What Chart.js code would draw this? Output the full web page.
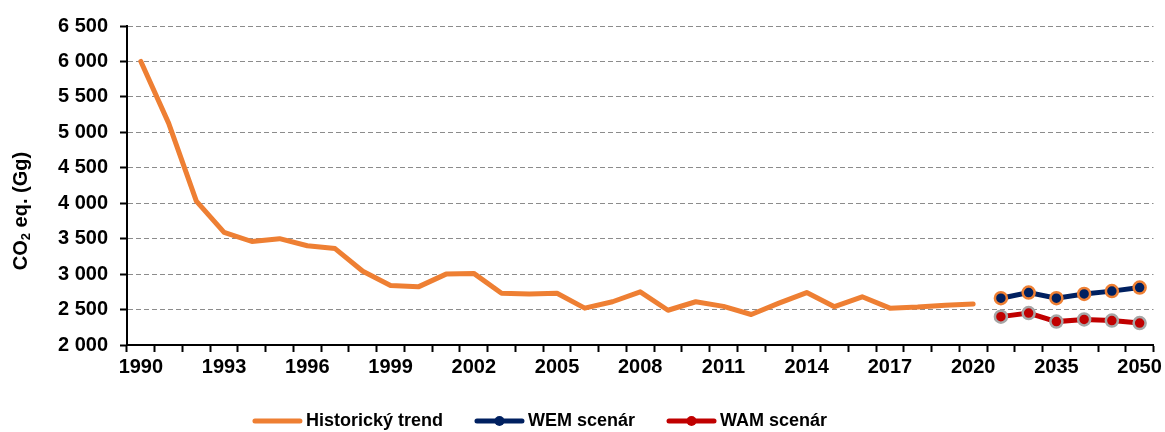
<!DOCTYPE html>
<html>
<head>
<meta charset="utf-8">
<script src="https://cdn.jsdelivr.net/npm/chart.js@4/dist/chart.umd.min.js"></script>
<style>
  html, body { margin: 0; padding: 0; background: #fff; }
  #wrap { width: 1165px; height: 432px; }
</style>
</head>
<body>
<div id="wrap"><canvas id="chart" width="1165" height="432"></canvas></div>
<script>
// categories: yearly history, then 5-year projection steps
const years = ["1990","1991","1992","1993","1994","1995","1996","1997","1998","1999",
  "2000","2001","2002","2003","2004","2005","2006","2007","2008","2009",
  "2010","2011","2012","2013","2014","2015","2016","2017","2018","2019","2020",
  "2025","2030","2035","2040","2045","2050"];
const shownYears = ["1990","1993","1996","1999","2002","2005","2008","2011","2014","2017","2020","2035","2050"];

const historic = [6000,5130,4030,3590,3460,3500,3400,3360,3040,2840,
  2820,3000,3010,2730,2720,2730,2520,2610,2750,2490,
  2610,2545,2430,2590,2740,2540,2680,2520,2535,2560,2580,
  null,null,null,null,null,null];
const wem = [null,null,null,null,null,null,null,null,null,null,
  null,null,null,null,null,null,null,null,null,null,
  null,null,null,null,null,null,null,null,null,null,null,
  2660,2740,2660,2720,2760,2810];
const wam = [null,null,null,null,null,null,null,null,null,null,
  null,null,null,null,null,null,null,null,null,null,
  null,null,null,null,null,null,null,null,null,null,null,
  2400,2450,2330,2360,2345,2310];

const yTicks = [2000,2500,3000,3500,4000,4500,5000,5500,6000,6500];
const seriesNames = ["Historický trend","WEM scenár","WAM scenár"];

const ORANGE = "#EE7F33", NAVY = "#002060", RED = "#C00000", GREY = "#A6A6A6";
const FONT = "Liberation Sans, Arial, sans-serif";

function fmt(v) {
  return String(v).replace(/\B(?=(\d{3})+(?!\d))/g, " ");
}

const extras = {
  id: "extras",
  afterDraw(chart) {
    const ctx = chart.ctx;
    ctx.save();
    ctx.fillStyle = "#000";
    // y axis title with subscript
    ctx.translate(21, 211);
    ctx.rotate(-Math.PI / 2);
    ctx.textBaseline = "middle";
    ctx.textAlign = "left";
    const big = "bold 20px " + FONT, small = "bold 13px " + FONT;
    ctx.font = big; const w1 = ctx.measureText("CO").width, w3 = ctx.measureText(" eq. (Gg)").width;
    ctx.font = small; const w2 = ctx.measureText("2").width;
    let x = -(w1 + w2 + w3) / 2;
    ctx.font = big; ctx.fillText("CO", x, 0); x += w1;
    ctx.font = small; ctx.fillText("2", x, 5); x += w2;
    ctx.font = big; ctx.fillText(" eq. (Gg)", x, 0);
    ctx.restore();

    // legend
    ctx.save();
    ctx.font = "bold 18px " + FONT;
    ctx.textBaseline = "middle";
    const items = [
      { text: seriesNames[0], color: ORANGE, dot: false },
      { text: seriesNames[1], color: NAVY, dot: true },
      { text: seriesNames[2], color: RED, dot: true }
    ];
    const lineW = 49, gapText = 4, gapItem = 32, y = 421;
    let total = 0;
    items.forEach((it, i) => { total += lineW + gapText + ctx.measureText(it.text).width + (i ? gapItem : 0); });
    let lx = 540 - total / 2;
    items.forEach(it => {
      ctx.strokeStyle = it.color;
      ctx.lineWidth = 5;
      ctx.lineCap = "round";
      ctx.beginPath(); ctx.moveTo(lx + 2, y); ctx.lineTo(lx + lineW - 2, y); ctx.stroke();
      if (it.dot) {
        ctx.fillStyle = it.color;
        ctx.beginPath(); ctx.arc(lx + lineW / 2, y, 5, 0, Math.PI * 2); ctx.fill();
      }
      ctx.fillStyle = "#000";
      ctx.fillText(it.text, lx + lineW + gapText, y);
      lx += lineW + gapText + ctx.measureText(it.text).width + gapItem;
    });
    ctx.restore();
  }
};

new Chart(document.getElementById("chart"), {
  type: "line",
  data: {
    labels: years,
    datasets: [
      { label: seriesNames[0], data: historic, borderColor: ORANGE, backgroundColor: ORANGE,
        borderWidth: 5, pointRadius: 0, tension: 0, borderCapStyle: "round", borderJoinStyle: "round" },
      { label: seriesNames[1], data: wem, borderColor: NAVY, backgroundColor: NAVY,
        borderWidth: 5, pointRadius: 6, pointBorderWidth: 2.5, pointBackgroundColor: NAVY,
        pointBorderColor: ORANGE, tension: 0 },
      { label: seriesNames[2], data: wam, borderColor: RED, backgroundColor: RED,
        borderWidth: 5, pointRadius: 6, pointBorderWidth: 2.5, pointBackgroundColor: RED,
        pointBorderColor: GREY, tension: 0 }
    ]
  },
  options: {
    responsive: false,
    animation: false,
    layout: { padding: { left: 0, top: 26, right: 10, bottom: 47 } },
    plugins: { legend: { display: false }, tooltip: { enabled: false } },
    scales: {
      x: {
        offset: true,
        afterFit(s) { s.height = 40; },
        grid: { offset: true, drawOnChartArea: false, drawTicks: true, tickLength: 7,
          tickColor: "#000", tickWidth: 2 },
        border: { display: true, color: "#000", width: 2 },
        ticks: {
          autoSkip: false, maxRotation: 0, padding: 3, color: "#000",
          font: { family: FONT, size: 20, weight: "bold" },
          callback(v) { const l = this.getLabelForValue(v); return shownYears.includes(l) ? l : ""; }
        }
      },
      y: {
        min: yTicks[0], max: yTicks[yTicks.length - 1],
        afterFit(s) { s.width = 127; },
        afterBuildTicks(s) { s.ticks = yTicks.map(v => ({ value: v })); },
        grid: {
          color: c => (c.tick && c.tick.value === yTicks[0]) ? "rgba(0,0,0,0)" : "#8C8C8C",
          lineWidth: 1, tickLength: 7, tickColor: "#000", tickWidth: 2
        },
        border: { display: true, color: "#000", width: 2, dash: [5, 3] },
        ticks: { padding: 12, color: "#000", font: { family: FONT, size: 20, weight: "bold" },
          callback: v => fmt(v) }
      }
    }
  },
  plugins: [extras]
});
</script>
</body>
</html>
